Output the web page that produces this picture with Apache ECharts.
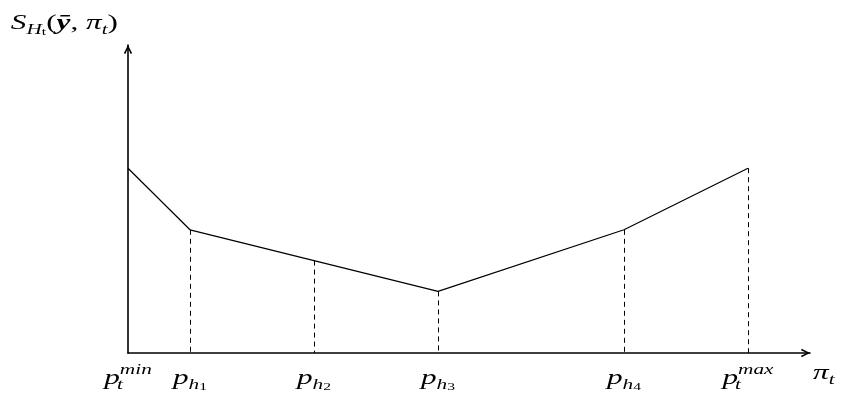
<!DOCTYPE html>
<html>
<head>
<meta charset="utf-8">
<script src="https://cdn.jsdelivr.net/npm/echarts@6/dist/echarts.min.js"></script>
<style>
  html, body { margin: 0; padding: 0; background: #fff; }
  #chart { width: 845px; height: 403px; }
</style>
</head>
<body>
<div id="chart"></div>
<script>
// Price breakpoints along the π_t axis and the piecewise-linear score at each
const priceSteps = [0, 1, 3, 5, 8, 10];
const scores = [6, 4, 3, 2, 4, 6];
// Tick labels under each breakpoint (rich-text markup)
const tickLabels = [
  '{p|p}{zt|t}{sup|min}',
  '{p|p}{sub|h}{ss|1}',
  '{p|p}{sub|h}{ss|2}',
  '{p|p}{sub|h}{ss|3}',
  '{p|p}{sub|h}{ss|4}',
  '{p|p}{zt|t}{sup|max}'
];
// Breakpoints that get a dashed drop line to the axis
const dropIdx = [1, 2, 3, 4, 5];
const xTitle = '{n|π}{sub|t}';
const yTitle = '{n|S}{sub|H}{ss|t}{r|(}{b|ȳ}{r|, }{n|π}{sub|t}{r|)}';

const serif = '"Liberation Serif", "DejaVu Serif", serif';
const LH = 30;
const WIDE = 1.42; // horizontal stretch for the math lettering
const mathRich = {
  p:   { fontFamily: serif, fontStyle: 'italic', fontSize: 22, lineHeight: LH, fill: '#000' },
  n:   { fontFamily: serif, fontStyle: 'italic', fontSize: 22, lineHeight: LH, fill: '#000' },
  r:   { fontFamily: serif, fontSize: 22, lineHeight: LH, fill: '#000' },
  b:   { fontFamily: serif, fontStyle: 'italic', fontWeight: 'bold', fontSize: 22, lineHeight: LH, fill: '#000' },
  sub: { fontFamily: serif, fontStyle: 'italic', fontSize: 15, lineHeight: 15, verticalAlign: 'bottom', fill: '#000' },
  ss:  { fontFamily: serif, fontSize: 11, lineHeight: 8, verticalAlign: 'bottom', fill: '#000' },
  zt:  { fontFamily: serif, fontStyle: 'italic', fontSize: 15, lineHeight: 15, verticalAlign: 'bottom', width: 0, align: 'left', fill: '#000' },
  sup: { fontFamily: serif, fontStyle: 'italic', fontSize: 15, lineHeight: 17, verticalAlign: 'top', fill: '#000' }
};

// Open chevron arrow head, pointing up in symbol space
const chevron = 'path://M0 10 L5 0 L10 10 L8.2 10.9 L5 3.9 L1.8 10.9 Z';

const lineData = priceSteps.map((x, i) => [x, scores[i]]);
const dropLines = dropIdx.map(i => [
  { coord: [priceSteps[i], scores[i]] },
  { coord: [priceSteps[i], 0] }
]);

const axisLine = {
  show: true,
  lineStyle: { color: '#000', width: 1.6 },
  symbol: ['none', chevron],
  symbolSize: [14, 9],
  symbolOffset: [0, -4.5]
};

const chart = echarts.init(document.getElementById('chart'), null, { renderer: 'canvas' });
chart.setOption({
  animation: false,
  backgroundColor: '#fff',
  grid: { left: 128, top: 45, width: 682, height: 308 },
  xAxis: {
    type: 'value', min: 0, max: 11,
    axisLine: axisLine,
    axisTick: { show: false },
    splitLine: { show: false },
    axisLabel: { show: false }
  },
  yAxis: {
    type: 'value', min: 0, max: 10,
    axisLine: axisLine,
    axisTick: { show: false },
    splitLine: { show: false },
    axisLabel: { show: false }
  },
  series: [{
    type: 'line',
    data: lineData,
    showSymbol: false,
    lineStyle: { color: '#000', width: 1.2 },
    markLine: {
      silent: true,
      symbol: ['none', 'none'],
      label: { show: false },
      lineStyle: { color: '#000', width: 1, type: [5, 4] },
      data: dropLines
    }
  }]
});

// Math lettering: tick labels under each breakpoint plus the two axis titles,
// placed through the axes' own scales and stretched horizontally.
const x0 = chart.convertToPixel({ xAxisIndex: 0 }, 0);
const yBase = chart.convertToPixel({ yAxisIndex: 0 }, 0);
const xEnd = chart.convertToPixel({ xAxisIndex: 0 }, 11);
const yTop = chart.convertToPixel({ yAxisIndex: 0 }, 10);

function mathText(text, x, y, align) {
  return {
    type: 'text',
    x: x, y: y,
    scaleX: WIDE,
    silent: true,
    style: { text: text, rich: mathRich, align: align, verticalAlign: 'middle', fill: '#000' }
  };
}

const labels = priceSteps.map((v, i) =>
  mathText(tickLabels[i], chart.convertToPixel({ xAxisIndex: 0 }, v), yBase + 25, 'center'));
labels.push(mathText(xTitle, xEnd + 3, yBase + 20, 'left'));
labels.push(mathText(yTitle, x0 - 10, yTop - 22, 'right'));

chart.setOption({ graphic: labels });
</script>
</body>
</html>
